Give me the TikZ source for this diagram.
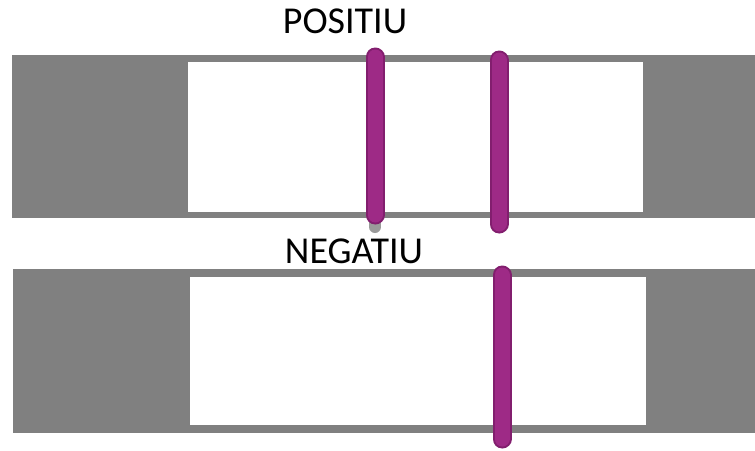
\documentclass[tikz,border=0pt]{standalone}
\usepackage{fontspec}
\setmainfont{Carlito}
\definecolor{stripgray}{RGB}{128,128,128}
\definecolor{linepurple}{RGB}{158,42,134}
\definecolor{linepurpledark}{RGB}{130,30,110}

\begin{document}
\begin{tikzpicture}[x=1pt,y=-1pt,line width=.5pt,
  stripbody/.style={fill=stripgray},
  window/.style={fill=white},
  testline/.style={line width=19pt,line cap=round,draw=linepurpledark},
  testcore/.style={line width=15pt,line cap=round,draw=linepurple},
  label/.style={anchor=base,inner sep=0pt,font=\fontsize{38}{42}\selectfont}]
\path[use as bounding box,fill=white] (0,0) rectangle (755,450);
% upper strip
\fill[stripbody] (12,55) rectangle (755,218);
\fill[window] (188,62) rectangle (643,212);
\draw[line width=12pt,line cap=round,stripgray!80] (375,222) -- (375,227);
\draw[testline] (375,57) -- (375,215);
\draw[testcore] (375,57) -- (375,215);
\draw[testline] (499,60) -- (499,224);
\draw[testcore] (499,60) -- (499,224);
\node[label] (pos) at (345,33) {POSITIU};
% lower strip
\fill[stripbody] (13,269) rectangle (755,433);
\fill[window] (190,277) rectangle (646,425);
\draw[testline] (502,275) -- (502,439);
\draw[testcore] (502,275) -- (502,439);
\node[label] (neg) at (354,263) {NEGATIU};
\end{tikzpicture}
\end{document}
